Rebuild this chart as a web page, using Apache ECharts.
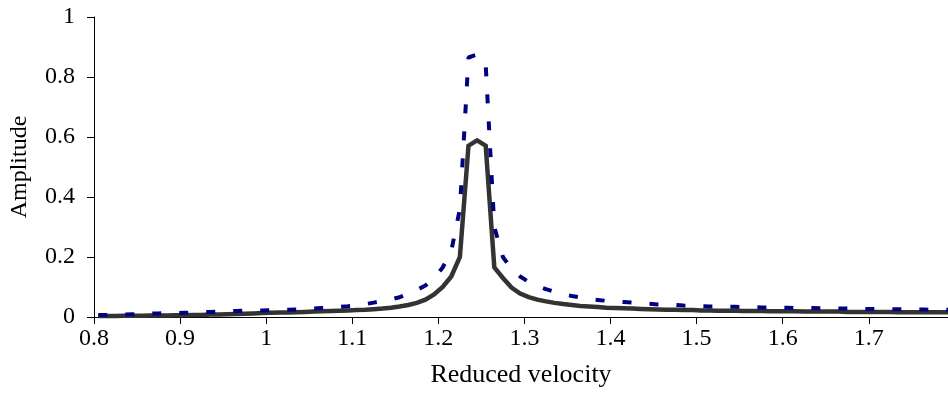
<!DOCTYPE html>
<html>
<head>
<meta charset="utf-8">
<script src="https://cdn.jsdelivr.net/npm/echarts@6/dist/echarts.min.js"></script>
<style>
html,body{margin:0;padding:0;background:#fff;}
#chart{width:948px;height:393px;}
</style>
</head>
<body>
<div id="chart"></div>
<script>
var velocity = [
0.805,0.815,0.825,0.835,0.845,0.855,0.865,0.875,0.885,0.895,
0.905,0.915,0.925,0.935,0.945,0.955,0.965,0.975,0.985,0.995,
1.005,1.015,1.025,1.035,1.045,1.055,1.065,1.075,1.085,1.095,
1.105,1.115,1.125,1.135,1.145,1.155,1.165,1.175,1.185,1.195,
1.205,1.215,1.225,1.235,1.245,1.255,1.265,1.275,1.285,1.295,
1.305,1.315,1.325,1.335,1.345,1.355,1.365,1.375,1.385,1.395,
1.405,1.415,1.425,1.435,1.445,1.455,1.465,1.475,1.485,1.495,
1.505,1.515,1.525,1.535,1.545,1.555,1.565,1.575,1.585,1.595,
1.605,1.615,1.625,1.635,1.645,1.655,1.665,1.675,1.685,1.695,
1.705,1.715,1.725,1.735,1.745,1.755,1.765,1.775,1.785,1.795
];
var solidAmp = [
0.003,0.003,0.003,0.004,0.004,0.004,0.005,0.005,0.005,0.006,
0.006,0.007,0.007,0.008,0.008,0.009,0.010,0.011,0.012,0.013,
0.014,0.015,0.015,0.016,0.017,0.018,0.019,0.020,0.021,0.022,
0.023,0.024,0.026,0.028,0.031,0.035,0.040,0.047,0.058,0.075,
0.100,0.135,0.200,0.571,0.589,0.571,0.165,0.130,0.098,0.078,
0.066,0.058,0.052,0.047,0.043,0.040,0.037,0.035,0.033,0.031,
0.030,0.029,0.028,0.027,0.026,0.025,0.024,0.024,0.023,0.023,
0.022,0.022,0.021,0.021,0.021,0.020,0.020,0.020,0.019,0.019,
0.019,0.019,0.018,0.018,0.018,0.018,0.018,0.017,0.017,0.017,
0.017,0.017,0.017,0.016,0.016,0.016,0.016,0.016,0.016,0.016
];
var dashedAmp = [
0.007,0.007,0.008,0.008,0.009,0.010,0.011,0.012,0.013,0.013,
0.014,0.015,0.016,0.017,0.018,0.019,0.020,0.021,0.021,0.022,
0.023,0.023,0.024,0.025,0.027,0.028,0.030,0.032,0.034,0.036,
0.039,0.043,0.048,0.053,0.059,0.066,0.077,0.090,0.105,0.130,
0.165,0.220,0.360,0.865,0.875,0.840,0.300,0.200,0.160,0.135,
0.117,0.103,0.093,0.084,0.076,0.070,0.065,0.060,0.057,0.054,
0.052,0.050,0.048,0.046,0.044,0.042,0.041,0.040,0.038,0.037,
0.036,0.035,0.035,0.034,0.034,0.033,0.033,0.032,0.032,0.031,
0.031,0.030,0.030,0.030,0.029,0.029,0.028,0.028,0.028,0.027,
0.027,0.027,0.026,0.026,0.025,0.025,0.025,0.024,0.024,0.024
];
var xTickLabels = ['0.8','0.9','1','1.1','1.2','1.3','1.4','1.5','1.6','1.7'];
var yTickLabels = ['0','0.2','0.4','0.6','0.8','1'];

function pairs(xs, ys){ return xs.map(function(x,i){ return [x, ys[i]]; }); }

var FONT = '"Liberation Serif", "Times New Roman", serif';
var chart = echarts.init(document.getElementById('chart'), null, {renderer:'canvas'});
chart.setOption({
  animation: false,
  backgroundColor: '#ffffff',
  grid: {left: 92, right: 0, top: 17, bottom: 75, containLabel: false},
  xAxis: [{
    type: 'value', min: 0.8, max: 1.792, interval: 0.1,
    name: 'Reduced velocity', nameLocation: 'middle', nameGap: 45,
    nameTextStyle: {fontFamily: FONT, fontSize: 26, color: '#000'},
    axisLine: {show: true, onZero: false, lineStyle: {color: '#000', width: 1}},
    axisTick: {show: true, inside: false, length: 7, lineStyle: {color: '#000'}},
    axisLabel: {
      margin: 10, fontFamily: FONT, fontSize: 24, color: '#000', showMaxLabel: false,
      formatter: function(v){
        var s = (Math.round(v*10)/10).toString();
        return xTickLabels.indexOf(s) >= 0 && Math.abs(v - Math.round(v*10)/10) < 1e-6 ? s : '';
      }
    },
    splitLine: {show: false}
  }, {
    type: 'value', position: 'top', min: 0.8, max: 1.792,
    axisLine: {show: true, lineStyle: {color: '#000', width: 1}},
    axisTick: {show: false}, axisLabel: {show: false}, splitLine: {show: false}
  }],
  yAxis: {
    type: 'value', min: 0, max: 1, interval: 0.2,
    name: 'Amplitude', nameLocation: 'middle', nameGap: 62, nameRotate: 90,
    nameTextStyle: {fontFamily: FONT, fontSize: 24, color: '#000'},
    axisLine: {show: true, lineStyle: {color: '#000', width: 1}},
    axisTick: {show: true, inside: false, length: 7, lineStyle: {color: '#000'}},
    axisLabel: {
      margin: 19, fontFamily: FONT, fontSize: 24, color: '#000',
      formatter: function(v){ return yTickLabels[Math.round(v*5)]; }
    },
    splitLine: {show: false}
  },
  series: [{
    type: 'line', xAxisIndex: 0, data: pairs(velocity, solidAmp),
    showSymbol: false, symbol: 'none', clip: true,
    lineStyle: {color: '#333333', width: 4.5, type: 'solid', join: 'miter'}
  }, {
    type: 'line', xAxisIndex: 0, data: pairs(velocity, dashedAmp),
    showSymbol: false, symbol: 'none', clip: true,
    lineStyle: {color: '#000080', width: 4, type: [9, 18], cap: 'butt'}
  }]
});
</script>
</body>
</html>
